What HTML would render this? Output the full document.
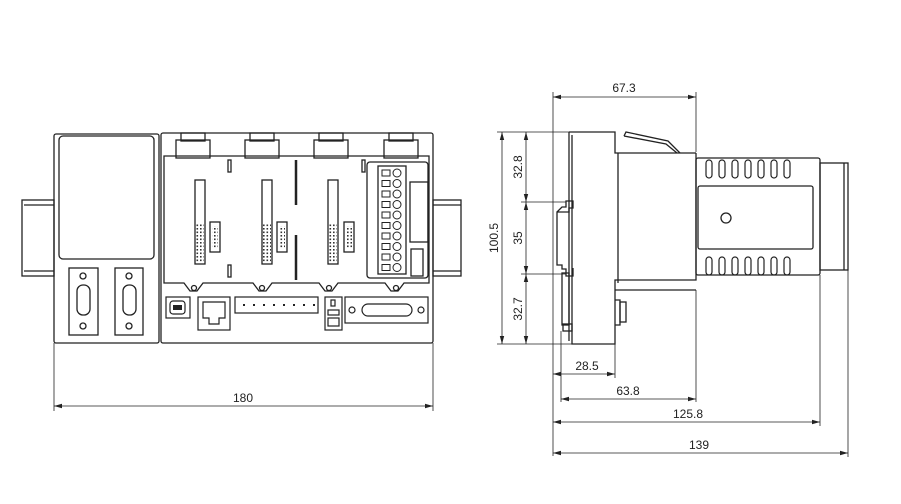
<!DOCTYPE html>
<html><head><meta charset="utf-8"><style>
body{margin:0;background:#fff;width:901px;height:504px;overflow:hidden}
svg{display:block}
text{font-family:"Liberation Sans",sans-serif;font-size:12px;fill:#222}
</style></head><body>
<svg width="901" height="504" viewBox="0 0 901 504" xmlns="http://www.w3.org/2000/svg">
<defs>
<marker id="a" markerWidth="8" markerHeight="6" refX="8" refY="3" orient="auto-start-reverse" markerUnits="userSpaceOnUse"><path d="M0,0.8 L8,3 L0,5.2z" fill="#222"/></marker>
<pattern id="dots" width="3.5" height="3.5" patternUnits="userSpaceOnUse"><rect x="0.5" y="0.5" width="1.6" height="1.6" fill="#333"/></pattern>
</defs>
<g fill="none" stroke="#222" stroke-width="1.3">
<rect x="22" y="200" width="32" height="76"/>
<line x1="24" y1="205" x2="54" y2="205"/><line x1="24" y1="271" x2="54" y2="271"/>
<rect x="433" y="200" width="28" height="76"/>
<line x1="433" y1="205" x2="461" y2="205"/><line x1="433" y1="271" x2="461" y2="271"/>
<rect x="54" y="134" width="105" height="209" rx="2"/>
<rect x="59" y="136" width="95" height="123" rx="4"/>
<rect x="69" y="268" width="29" height="67"/>
<rect x="115" y="268" width="28" height="67"/>
<rect x="77" y="285" width="13" height="30" rx="6"/>
<rect x="123" y="285" width="13" height="30" rx="6"/>
<circle cx="83" cy="276" r="3"/><circle cx="83" cy="326" r="3"/>
<circle cx="129" cy="276" r="3"/><circle cx="129" cy="326" r="3"/>
<rect x="161" y="133" width="272" height="210" rx="2"/>
<path d="M164,156 H429 V283 H404 L398,291 H391 L385,283 H338 L332,291 H325 L319,283 H272 L266,291 H259 L253,283 H203 L197,291 H190 L184,283 H164 Z"/>
<circle cx="194" cy="288" r="2.5"/><circle cx="262" cy="288" r="2.5"/><circle cx="329" cy="288" r="2.5"/><circle cx="396" cy="288" r="2.5"/>
<g>
<rect x="176" y="140" width="34" height="18"/><rect x="181" y="133" width="24" height="8"/>
<rect x="245" y="140" width="34" height="18"/><rect x="250" y="133" width="24" height="8"/>
<rect x="314" y="140" width="34" height="18"/><rect x="319" y="133" width="24" height="8"/>
<rect x="384" y="140" width="34" height="18"/><rect x="389" y="133" width="24" height="8"/>
</g>
<rect x="195" y="180" width="10" height="84"/>
<rect x="262" y="180" width="10" height="84"/>
<rect x="328" y="180" width="10" height="84"/>
<rect x="210" y="222" width="10" height="30"/>
<rect x="277" y="222" width="10" height="30"/>
<rect x="344" y="222" width="10" height="30"/>
<rect x="228" y="160" width="3" height="12"/><rect x="228" y="265" width="3" height="12"/>
<rect x="362" y="160" width="3" height="12"/>
<line x1="296" y1="160" x2="296" y2="205" stroke-width="2.5"/>
<line x1="296" y1="235" x2="296" y2="280" stroke-width="2.5"/>
<rect x="367" y="162" width="61" height="116" rx="3"/>
<rect x="378" y="166" width="28" height="108"/>
<rect x="410" y="182" width="18" height="60"/>
<rect x="411" y="249" width="12" height="27"/>
</g>
<g fill="none" stroke="#222" stroke-width="1">
<g id="tb">
<rect x="382" y="170" width="8" height="6"/><circle cx="397" cy="173" r="4"/>
</g>
<use href="#tb" y="10.5"/><use href="#tb" y="21"/><use href="#tb" y="31.5"/><use href="#tb" y="42"/>
<use href="#tb" y="52.5"/><use href="#tb" y="63"/><use href="#tb" y="73.5"/><use href="#tb" y="84"/><use href="#tb" y="94.5"/>
</g>
<g fill="url(#dots)">
<rect x="196" y="223" width="8" height="40"/>
<rect x="263" y="223" width="8" height="40"/>
<rect x="329" y="223" width="8" height="40"/>
<rect x="212" y="226" width="6" height="22"/>
<rect x="279" y="226" width="6" height="22"/>
<rect x="346" y="226" width="6" height="22"/>
</g>
<g fill="none" stroke="#222" stroke-width="1.2">
<rect x="166" y="297" width="24" height="21"/>
<rect x="170" y="301" width="15" height="13" rx="3"/>
<rect x="198" y="297" width="32" height="33"/>
<path d="M203,302 H225 V318 H219 V324 H209 V318 H203 Z"/>
<rect x="235" y="297" width="83" height="16"/>
<rect x="325" y="297" width="17" height="33"/>
<rect x="331" y="300" width="4" height="6"/>
<rect x="328" y="310" width="11" height="5"/><rect x="328" y="318" width="11" height="8"/>
<rect x="345" y="297" width="83" height="26"/>
<rect x="362" y="304" width="50" height="12" rx="6"/>
<circle cx="352" cy="310" r="3"/><circle cx="421" cy="310" r="3"/>
</g>
<g fill="#222">
<rect x="173" y="305" width="9" height="5"/>
<rect x="243" y="304" width="2" height="2"/><rect x="253" y="304" width="2" height="2"/><rect x="263" y="304" width="2" height="2"/><rect x="273" y="304" width="2" height="2"/><rect x="283" y="304" width="2" height="2"/><rect x="293" y="304" width="2" height="2"/><rect x="303" y="304" width="2" height="2"/><rect x="313" y="304" width="2" height="2"/>
</g>
<g stroke="#222" stroke-width="0.8" fill="none">
<line x1="54" y1="343" x2="54" y2="411"/><line x1="433" y1="343" x2="433" y2="411"/>
<line x1="54" y1="406" x2="433" y2="406" marker-start="url(#a)" marker-end="url(#a)"/>
</g>
<text x="243" y="402" text-anchor="middle">180</text>

<g fill="none" stroke="#222" stroke-width="1.3">
<path d="M569,132 H615 V153 H696"/>
<path d="M572,135 V344 H615 V280 H696 V153"/>
<line x1="569" y1="132" x2="569" y2="341"/>
<line x1="618" y1="153" x2="618" y2="283"/>
<line x1="615" y1="290" x2="696" y2="290"/>
<path d="M624,136 L666,144 L677,153" />
<path d="M624,136 L626,132 L668,141 L680,153"/>
<path d="M615,300 L620,300 V325 L615,325"/>
<rect x="620" y="302" width="6" height="20"/>
<path d="M557,212 L562,207 H566 V201 H573 V208 H569 V212 H557 V265 H562 V269 H566 V276 H573 V268"/>
<rect x="562" y="273" width="7" height="52"/>
<rect x="563" y="324" width="9" height="7"/>
<rect x="696" y="158" width="124" height="117" rx="2"/>
<rect x="698" y="186" width="115" height="63" rx="2"/>
<circle cx="726" cy="218" r="5"/>
<rect x="820" y="163" width="28" height="107"/>
<line x1="844" y1="163" x2="844" y2="270"/>
</g>
<g fill="none" stroke="#222" stroke-width="1.2">
<rect x="706" y="160" width="6" height="18" rx="3"/><rect x="719" y="160" width="6" height="18" rx="3"/><rect x="732" y="160" width="6" height="18" rx="3"/><rect x="745" y="160" width="6" height="18" rx="3"/><rect x="758" y="160" width="6" height="18" rx="3"/><rect x="771" y="160" width="6" height="18" rx="3"/><rect x="784" y="160" width="6" height="18" rx="3"/>
<rect x="706" y="257" width="6" height="18" rx="3"/><rect x="719" y="257" width="6" height="18" rx="3"/><rect x="732" y="257" width="6" height="18" rx="3"/><rect x="745" y="257" width="6" height="18" rx="3"/><rect x="758" y="257" width="6" height="18" rx="3"/><rect x="771" y="257" width="6" height="18" rx="3"/><rect x="784" y="257" width="6" height="18" rx="3"/>
</g>
<g stroke="#222" stroke-width="0.8" fill="none">
<line x1="553" y1="92" x2="553" y2="456"/>
<line x1="696" y1="92" x2="696" y2="152"/>
<line x1="553" y1="97" x2="696" y2="97" marker-start="url(#a)" marker-end="url(#a)"/>
<line x1="497" y1="132" x2="572" y2="132"/>
<line x1="497" y1="344" x2="572" y2="344"/>
<line x1="521" y1="202" x2="566" y2="202"/>
<line x1="521" y1="274" x2="566" y2="274"/>
<line x1="502" y1="132" x2="502" y2="344" marker-start="url(#a)" marker-end="url(#a)"/>
<line x1="526" y1="132" x2="526" y2="202" marker-start="url(#a)" marker-end="url(#a)"/>
<line x1="526" y1="202" x2="526" y2="274" marker-start="url(#a)" marker-end="url(#a)"/>
<line x1="526" y1="274" x2="526" y2="344" marker-start="url(#a)" marker-end="url(#a)"/>
<line x1="561" y1="331" x2="561" y2="402"/>
<line x1="615" y1="344" x2="615" y2="378"/>
<line x1="696" y1="290" x2="696" y2="402"/>
<line x1="820" y1="275" x2="820" y2="426"/>
<line x1="848" y1="270" x2="848" y2="457"/>
<line x1="553" y1="374" x2="615" y2="374" marker-start="url(#a)" marker-end="url(#a)"/>
<line x1="561" y1="399" x2="696" y2="399" marker-start="url(#a)" marker-end="url(#a)"/>
<line x1="553" y1="422" x2="820" y2="422" marker-start="url(#a)" marker-end="url(#a)"/>
<line x1="553" y1="453" x2="848" y2="453" marker-start="url(#a)" marker-end="url(#a)"/>
</g>
<text x="624" y="92" text-anchor="middle">67.3</text>
<text x="587" y="370" text-anchor="middle">28.5</text>
<text x="628" y="395" text-anchor="middle">63.8</text>
<text x="688" y="418" text-anchor="middle">125.8</text>
<text x="699" y="449" text-anchor="middle">139</text>
<text transform="translate(498,238) rotate(-90)" text-anchor="middle">100.5</text>
<text transform="translate(522,167) rotate(-90)" text-anchor="middle">32.8</text>
<text transform="translate(522,238) rotate(-90)" text-anchor="middle">35</text>
<text transform="translate(522,309) rotate(-90)" text-anchor="middle">32.7</text>
</svg>
</body></html>
